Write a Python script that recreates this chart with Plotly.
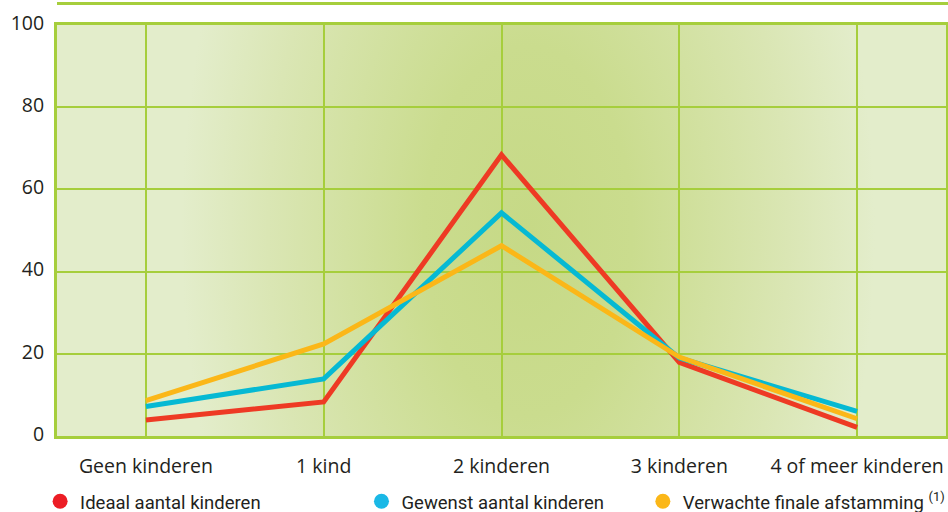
import base64
import plotly.graph_objects as go

categories = ["Geen kinderen", "1 kind", "2 kinderen", "3 kinderen", "4 of meer kinderen"]
ideaal = [3.9, 8.3, 68.4, 17.9, 2.1]
gewenst = [7.2, 13.9, 54.3, 19.0, 6.0]
verwacht = [8.6, 22.4, 46.3, 19.2, 4.2]
y_ticks = [0, 20, 40, 60, 80, 100]

series = [
    ("Ideaal aantal kinderen", ideaal, "#EE3A24", "#EC1D25", "legend"),
    ("Gewenst aantal kinderen", gewenst, "#06B9D3", "#1AB8E6", "legend2"),
    ("Verwachte finale afstamming <sup>(1)</sup>", verwacht, "#FBB718", "#FBB718", "legend3"),
]

GREEN = "#A6CE3C"
TXT = "#231F20"

svg = """<svg xmlns='http://www.w3.org/2000/svg' width='889' height='411' viewBox='0 0 100 100' preserveAspectRatio='none'>
<defs><radialGradient id='g' cx='0' cy='0' r='1' gradientUnits='objectBoundingBox' gradientTransform='translate(0.53 0.5) scale(0.39 1.5)'>
<stop offset='0' stop-color='#C6D986'/>
<stop offset='0.3' stop-color='#CADC8E'/>
<stop offset='0.75' stop-color='#DAE6B4'/>
<stop offset='1' stop-color='#E3EDCB'/>
</radialGradient></defs>
<rect x='0' y='0' width='100' height='100' fill='url(#g)'/>
</svg>"""
bg_src = "data:image/svg+xml;base64," + base64.b64encode(svg.encode()).decode()

fig = go.Figure()
for name, vals, col, lcol, lg in series:
    fig.add_trace(go.Scatter(
        x=categories, y=vals, mode="lines", name=name,
        line=dict(color=col, width=5), showlegend=False, hoverinfo="skip"))
for name, vals, col, lcol, lg in series:
    fig.add_trace(go.Scatter(
        x=[None], y=[None], mode="markers", name=name, legend=lg,
        marker=dict(color=lcol, size=15, symbol="circle"), showlegend=True))

leg_common = dict(orientation="h", yanchor="middle", y=-0.160, xanchor="left",
                  bgcolor="rgba(0,0,0,0)", borderwidth=0,
                  font=dict(family="Roboto, sans-serif", size=18.5, color=TXT),
                  itemwidth=30, tracegroupgap=0)

fig.update_layout(
    width=948, height=512,
    margin=dict(l=57, r=2, t=25, b=76, autoexpand=False),
    paper_bgcolor="white",
    plot_bgcolor="#E3EDCB",
    font=dict(family="Open Sans, sans-serif", size=19.5, color=TXT),
    legend=dict(x=-0.019, **leg_common),
    legend2=dict(x=0.3425, **leg_common),
    legend3=dict(x=0.659, **leg_common),
    images=[dict(source=bg_src, xref="paper", yref="paper", x=0, y=1,
                 sizex=1, sizey=1, xanchor="left", yanchor="top",
                 sizing="stretch", layer="below")],
    shapes=[dict(type="line", xref="paper", yref="paper", x0=0, x1=1.003,
                 y0=1.0523, y1=1.0523, line=dict(color=GREEN, width=3))],
    xaxis=dict(type="category", range=[-0.5, 4.5], showgrid=True, gridcolor=GREEN,
               gridwidth=1.5, showline=True, linecolor=GREEN, linewidth=3, mirror=True,
               ticks="", ticklabelstandoff=11, zeroline=False, fixedrange=True,
               automargin=False),
    yaxis=dict(range=[0, 100], tickvals=y_ticks, showgrid=True, gridcolor=GREEN,
               gridwidth=2, showline=True, linecolor=GREEN, linewidth=3, mirror=True,
               ticks="", ticklabelstandoff=6, ticklabelshift=-2, zeroline=False,
               fixedrange=True, automargin=False),
)

fig.write_html("out.html", config={"displayModeBar": False},
               post_script="document.body.style.margin='0';document.body.style.padding='0';")
